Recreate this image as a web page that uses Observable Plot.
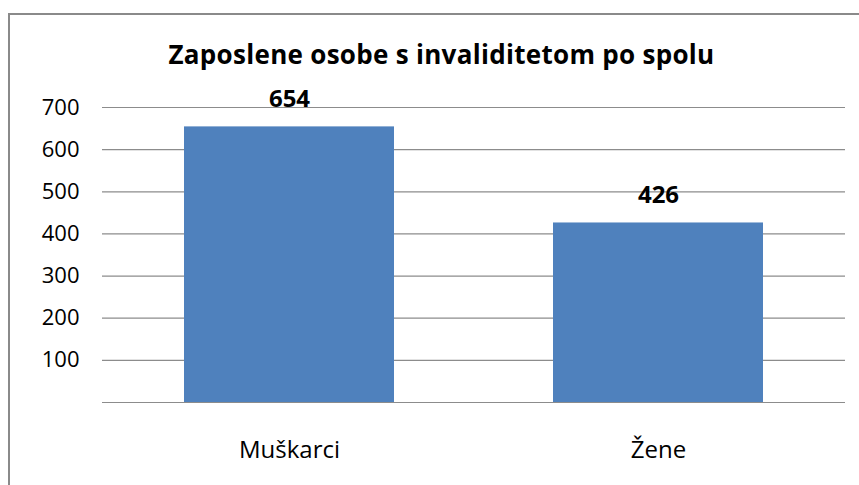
<!DOCTYPE html>
<html>
<head>
<meta charset="utf-8">
<script src="https://cdn.jsdelivr.net/npm/d3@7"></script>
<script src="https://cdn.jsdelivr.net/npm/@observablehq/plot@0.6"></script>
<style>
  html, body { margin: 0; padding: 0; background: #fff; overflow: hidden; }
  #wrap { position: relative; width: 859px; height: 485px; font-family: "Open Sans", "Noto Sans", sans-serif; }
  #border { position: absolute; left: 8px; top: 13px; width: 900px; height: 600px; border: 2px solid #8a8a8a; box-sizing: border-box; }
  #title { position: absolute; left: 0; width: 883px; top: 37px; text-align: center; font-weight: bold; font-size: 26px; line-height: 34px; color: #000; letter-spacing: 0.3px; }
  #chart { position: absolute; left: 0; top: 0; }
</style>
</head>
<body>
<div id="wrap">
  <div id="border"></div>
  <div id="chart"></div>
  <div id="title"></div>
</div>
<script>
const categories = ["Muškarci", "Žene"];
const values = [654, 426];
const yTicks = [100, 200, 300, 400, 500, 600, 700];
const titleText = "Zaposlene osobe s invaliditetom po spolu";

document.getElementById("title").textContent = titleText;
const data = categories.map((c, i) => ({category: c, value: values[i]}));

const chart = Plot.plot({
  width: 859,
  height: 485,
  marginLeft: 102,
  marginRight: 14,
  marginTop: 107,
  marginBottom: 83,
  style: {fontFamily: "'Open Sans', 'Noto Sans', sans-serif", background: "transparent"},
  x: {domain: categories, paddingInner: 0.43, paddingOuter: 0.22, label: null},
  y: {domain: [0, 700], label: null},
  marks: [
    Plot.ruleY([0, ...yTicks], {stroke: "#8c8c8c", strokeWidth: 1.2}),
    Plot.barY(data, {x: "category", y: "value", fill: "#4F81BD"}),
    Plot.text(data, {x: "category", y: "value", text: d => String(d.value), dy: -28, fontSize: 24, fontWeight: "bold", fill: "#000"}),
    Plot.axisY({ticks: yTicks, tickSize: 0, tickPadding: 23, fontSize: 22, color: "#000", label: null}),
    Plot.axisX({tickSize: 0, tickPadding: 38, fontSize: 24, color: "#000", label: null})
  ]
});
document.getElementById("chart").appendChild(chart);
</script>
</body>
</html>
